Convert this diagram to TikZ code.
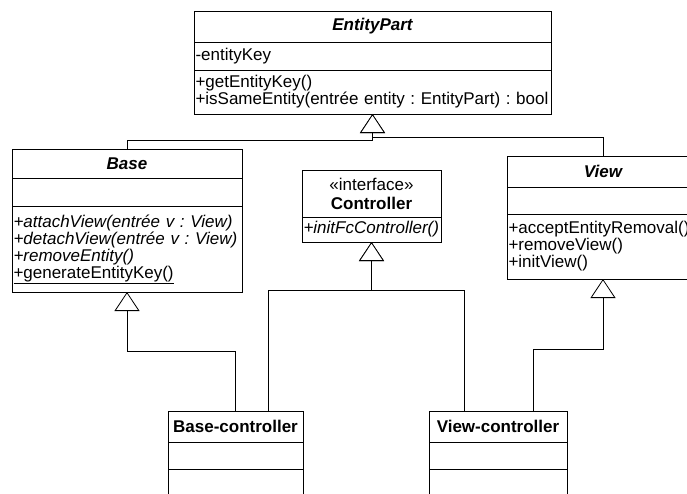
\documentclass[tikz,border=0pt]{standalone}
\usepackage{fontspec}
\setmainfont{Liberation Sans}
\usetikzlibrary{positioning, arrows.meta}
\newcommand{\umlfont}{\fontsize{17}{17}\selectfont\frenchspacing}

\begin{document}
\begin{tikzpicture}[
    x=1pt, y=-1pt,
    node distance=0pt,
    % Styles des classes
    classname/.style={rectangle, draw=black, line width=1pt, outer sep=0pt, anchor=north west, text width=#1, align=center, inner xsep=1.5pt, inner ysep=1pt, font=\umlfont\bfseries},
    classpart/.style={rectangle, draw=black, line width=1pt, outer sep=0pt, text width=#1, align=left, inner xsep=1.5pt, inner ysep=1pt, font=\umlfont},
    inherit/.style={line width=0.8pt, -{Triangle[open, length=19pt, width=25pt, fill=white]}}
  ]
  \useasboundingbox (0,0) rectangle (687,493);
  \clip (0,0) rectangle (687,493);

  % Classe EntityPart
  \node (ep) [classname=354pt, minimum height=31pt] at (194,11) {\itshape EntityPart};
  \node (epAttr) [classpart=354pt, minimum height=28pt, below=of ep] {-entityKey};
  \node (epOps) [classpart=354pt, minimum height=44pt, below=of epAttr] {+getEntityKey()\\+isSameEntity(entrée entity : EntityPart) : bool};

  % Classe Base
  \node (base) [classname=227pt, minimum height=29pt] at (12,149) {\itshape Base};
  \node (baseAttr) [classpart=227pt, minimum height=28pt, below=of base] {};
  \node (baseOps) [classpart=227pt, minimum height=86pt, below=of baseAttr] {\itshape +attachView(entrée v : View)\\+detachView(entrée v : View)\\+removeEntity()\\{\upshape\underline{+generateEntityKey()}}};

  % Interface Controller
  \node (ctrl) [classname=136pt, minimum height=47pt] at (302,170) {{\mdseries «interface»}\\[2pt]Controller};
  \node (ctrlOps) [classpart=136pt, minimum height=25pt, below=of ctrl] {\itshape +initFcController()};

  % Classe View
  \node (view) [classname=189pt, minimum height=31pt] at (507,156) {\itshape View};
  \node (viewAttr) [classpart=189pt, minimum height=27pt, below=of view] {};
  \node (viewOps) [classpart=189pt, minimum height=65pt, below=of viewAttr] {+acceptEntityRemoval()\\+removeView()\\+initView()};

  % Classes concretes
  \node (basectl) [classname=132pt, minimum height=31pt] at (168,411) {Base-controller};
  \node (basectlAttr) [classpart=132pt, minimum height=27pt, below=of basectl] {};
  \node (basectlOps) [classpart=132pt, minimum height=40pt, below=of basectlAttr] {};

  \node (viewctl) [classname=135pt, minimum height=31pt] at (429,411) {View-controller};
  \node (viewctlAttr) [classpart=135pt, minimum height=27pt, below=of viewctl] {};
  \node (viewctlOps) [classpart=135pt, minimum height=40pt, below=of viewctlAttr] {};

  % Heritage vers EntityPart
  \draw [inherit] (base.north) -- ++(0,-9) -| (epOps.south);
  \draw [inherit] (view.north) -- ++(0,-19) -| (epOps.south);

  % Heritage des controleurs
  \draw [inherit] (basectl.north) -- ++(0,-60) -| (baseOps.south);
  \draw [inherit] ([xshift=33pt]basectl.north) -- ++(0,-121) -| (ctrlOps.south);
  \draw [inherit] ([xshift=-34pt]viewctl.north) -- ++(0,-121) -| (ctrlOps.south);
  \draw [inherit] ([xshift=35pt]viewctl.north) -- ++(0,-62) -| (viewOps.south);
\end{tikzpicture}
\end{document}
